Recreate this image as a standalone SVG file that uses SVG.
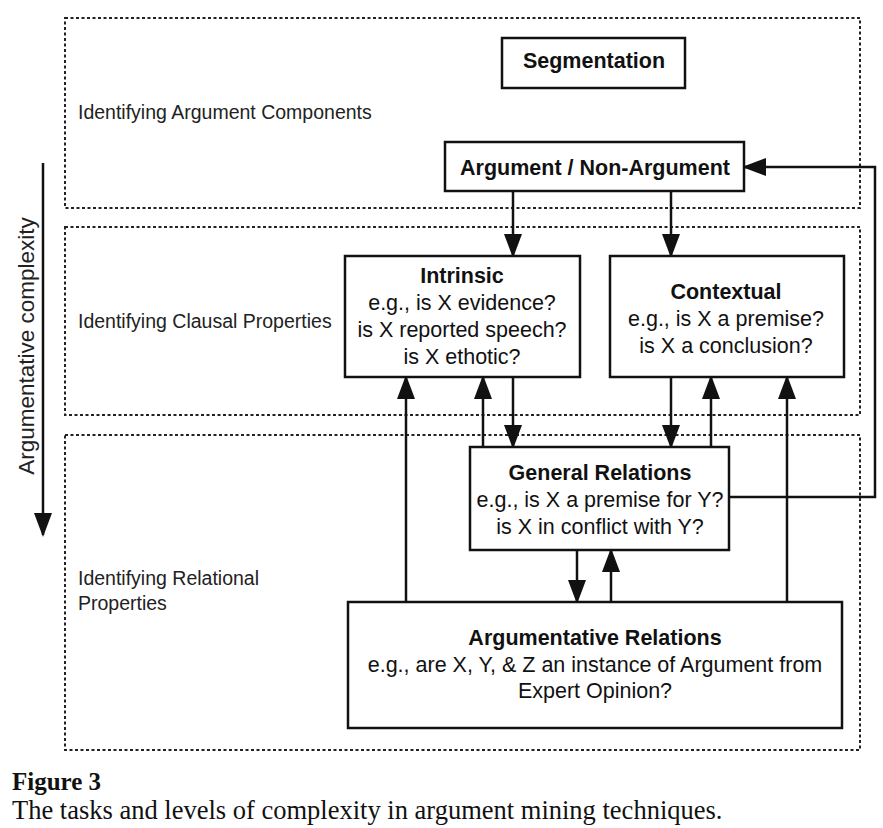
<svg xmlns="http://www.w3.org/2000/svg" width="883" height="828" viewBox="0 0 883 828">
<style>
.region{fill:none;stroke:#222;stroke-width:2;stroke-dasharray:3,2.5}
.box{fill:#fff;stroke:#111;stroke-width:2.5}
.lbl{font-family:"Liberation Sans",Arial,sans-serif;font-size:19.5px;fill:#222}
.axis{font-family:"Liberation Sans",Arial,sans-serif;font-size:22.5px;fill:#222;text-anchor:middle}
.t{font-family:"Liberation Sans",Arial,sans-serif;font-size:21.5px;fill:#111;text-anchor:middle}
.b{font-weight:bold}
.edge{fill:none;stroke:#111;stroke-width:2.5}
.cap{font-family:"Liberation Serif","Times New Roman",serif;font-size:26.5px;fill:#111}
.capb{font-family:"Liberation Serif","Times New Roman",serif;font-size:25px;font-weight:bold;fill:#111}
</style>
<defs>
<marker id="ah" viewBox="0 0 24 18" refX="22" refY="9" markerWidth="24" markerHeight="18" markerUnits="userSpaceOnUse" orient="auto">
<path d="M0,0 L24,9 L0,18 Z" fill="#111"/>
</marker>
</defs>
<rect width="883" height="828" fill="#fff"/>
<g id="regions">
<rect class="region" x="65" y="18" width="795" height="190"/>
<rect class="region" x="65" y="227" width="795" height="188"/>
<rect class="region" x="65" y="435" width="795" height="315"/>
<text class="lbl" x="78" y="119">Identifying Argument Components</text>
<text class="lbl" x="78" y="328">Identifying Clausal Properties</text>
<text class="lbl" x="78" y="585">Identifying Relational</text>
<text class="lbl" x="78" y="610">Properties</text>
</g>
<g id="axis">
<line class="edge" x1="43" y1="163" x2="43" y2="535" marker-end="url(#ah)"/>
<text class="axis" transform="translate(34,346) rotate(-90)">Argumentative complexity</text>
</g>
<g id="connectors">
<line class="edge" x1="513" y1="191" x2="513" y2="256" marker-end="url(#ah)"/>
<line class="edge" x1="671" y1="191" x2="671" y2="256" marker-end="url(#ah)"/>
<polyline class="edge" points="729,497 875,497 875,167 744,167" marker-end="url(#ah)"/>
<line class="edge" x1="513" y1="377" x2="513" y2="447" marker-end="url(#ah)"/>
<line class="edge" x1="483" y1="447" x2="483" y2="377" marker-end="url(#ah)"/>
<line class="edge" x1="406" y1="602" x2="406" y2="377" marker-end="url(#ah)"/>
<line class="edge" x1="671" y1="377" x2="671" y2="447" marker-end="url(#ah)"/>
<line class="edge" x1="711" y1="447" x2="711" y2="377" marker-end="url(#ah)"/>
<line class="edge" x1="787" y1="602" x2="787" y2="377" marker-end="url(#ah)"/>
<line class="edge" x1="577" y1="550" x2="577" y2="602" marker-end="url(#ah)"/>
<line class="edge" x1="611" y1="602" x2="611" y2="550" marker-end="url(#ah)"/>
</g>
<g id="segmentation">
<rect class="box" x="502" y="38" width="183" height="50"/>
<text class="t b" x="594" y="67.5">Segmentation</text>
</g>
<g id="argument">
<rect class="box" x="445" y="142" width="299" height="49"/>
<text class="t b" x="595" y="174.5">Argument / Non-Argument</text>
</g>
<g id="intrinsic">
<rect class="box" x="345" y="256" width="235" height="121"/>
<text class="t b" x="462" y="282.5">Intrinsic</text>
<text class="t" x="462" y="309.5">e.g., is X evidence?</text>
<text class="t" x="462" y="336.5">is X reported speech?</text>
<text class="t" x="462" y="363.5">is X ethotic?</text>
</g>
<g id="contextual">
<rect class="box" x="610" y="256" width="234" height="121"/>
<text class="t b" x="726" y="298.5">Contextual</text>
<text class="t" x="726" y="325.5">e.g., is X a premise?</text>
<text class="t" x="726" y="352.5">is X a conclusion?</text>
</g>
<g id="general">
<rect class="box" x="470" y="447" width="259" height="103"/>
<text class="t b" x="600" y="479.5">General Relations</text>
<text class="t" x="600" y="506.5">e.g., is X a premise for Y?</text>
<text class="t" x="600" y="533.5">is X in conflict with Y?</text>
</g>
<g id="argumentative">
<rect class="box" x="348" y="602" width="494" height="126"/>
<text class="t b" x="595" y="644.5">Argumentative Relations</text>
<text class="t" x="595" y="671.5">e.g., are X, Y, &amp; Z an instance of Argument from</text>
<text class="t" x="595" y="697.5">Expert Opinion?</text>
</g>
<g id="caption">
<text class="capb" x="12" y="790">Figure 3</text>
<text class="cap" x="12" y="819">The tasks and levels of complexity in argument mining techniques.</text>
</g>
</svg>
